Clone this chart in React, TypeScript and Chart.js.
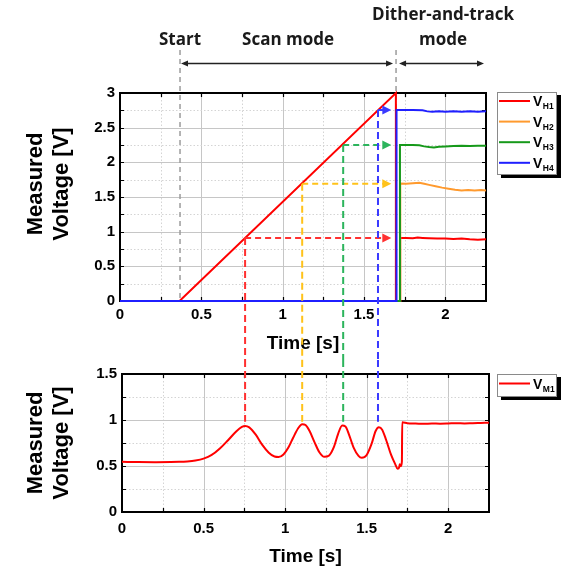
import React, { useEffect, useRef } from 'react';
import { Chart, registerables } from 'chart.js';

Chart.register(...registerables);

// ---------- axes ----------
const X_MAX = 2.25;
const TOP_Y_MAX = 3;
const BOTTOM_Y_MAX = 1.5;
const MAJOR_STEP = 0.5;
const MINOR_STEP = 0.25;

// ---------- top chart series (time [s], voltage [V]) ----------
const vH1Time = [0, 0.366, 1.696, 1.696, 1.722, 1.722, 1.76, 1.8, 1.83, 1.86, 1.9, 1.95, 2.0, 2.05, 2.1, 2.15, 2.2, 2.25];
const vH1Volt = [0, 0, 3, 0, 0, 0.91, 0.91, 0.905, 0.915, 0.91, 0.905, 0.9, 0.9, 0.895, 0.9, 0.89, 0.885, 0.89];

const vH2Time = [0, 1.723, 1.723, 1.76, 1.8, 1.84, 1.87, 1.9, 1.94, 1.98, 2.02, 2.06, 2.1, 2.14, 2.18, 2.22, 2.25];
const vH2Volt = [0, 0, 1.695, 1.69, 1.7, 1.705, 1.69, 1.675, 1.655, 1.635, 1.62, 1.605, 1.595, 1.6, 1.595, 1.6, 1.595];

const vH3Time = [0, 1.721, 1.721, 1.76, 1.8, 1.84, 1.87, 1.9, 1.93, 1.96, 2.0, 2.05, 2.1, 2.15, 2.2, 2.25];
const vH3Volt = [0, 0, 2.25, 2.25, 2.25, 2.245, 2.23, 2.22, 2.215, 2.225, 2.23, 2.235, 2.24, 2.235, 2.24, 2.24];

const vH4Time = [0, 1.7, 1.7, 1.75, 1.8, 1.86, 1.89, 1.92, 1.96, 2.0, 2.05, 2.1, 2.15, 2.2, 2.25];
const vH4Volt = [0, 0, 2.755, 2.755, 2.755, 2.75, 2.735, 2.73, 2.735, 2.73, 2.735, 2.73, 2.735, 2.73, 2.735];

const topNames = ['H1', 'H2', 'H3', 'H4'];
const topColors = ['#ff0000', '#ff9a2e', '#16991a', '#1f1fff'];

// ---------- bottom chart series ----------
const vM1Time = [0, 0.1, 0.2, 0.3, 0.35, 0.4, 0.45, 0.5, 0.55, 0.6, 0.65, 0.7, 0.735, 0.755, 0.78, 0.82, 0.86, 0.9, 0.935, 0.96, 0.99, 1.02, 1.05, 1.08, 1.105, 1.125, 1.15, 1.18, 1.21, 1.24, 1.27, 1.3, 1.325, 1.35, 1.37, 1.39, 1.42, 1.45, 1.47, 1.5, 1.53, 1.555, 1.575, 1.595, 1.62, 1.65, 1.675, 1.69, 1.7, 1.703, 1.71, 1.716, 1.718, 1.75, 1.8, 1.85, 1.9, 1.95, 2.0, 2.05, 2.1, 2.15, 2.2, 2.25];
const vM1Volt = [0.545, 0.543, 0.542, 0.543, 0.545, 0.55, 0.56, 0.58, 0.62, 0.69, 0.78, 0.875, 0.925, 0.935, 0.92, 0.84, 0.73, 0.645, 0.603, 0.598, 0.625, 0.7, 0.81, 0.91, 0.955, 0.945, 0.88, 0.76, 0.65, 0.6, 0.615, 0.71, 0.85, 0.94, 0.93, 0.85, 0.7, 0.61, 0.59, 0.62, 0.74, 0.88, 0.92, 0.895, 0.78, 0.62, 0.52, 0.47, 0.49, 0.52, 0.5, 0.55, 0.975, 0.965, 0.962, 0.958, 0.962, 0.96, 0.962, 0.965, 0.963, 0.966, 0.968, 0.97];
const bottomNames = ['M1'];
const bottomColors = ['#ff0000'];

// ---------- annotations ----------
const scanStart = 0.369;
const scanEnd = 1.697;
const markTimes = [0.769, 1.12, 1.372, 1.586];
const markLevels = [0.91, 1.69, 2.25, 2.755];
const markColors = ['#ff3030', '#ffc21a', '#2cb45c', '#3a3aff'];
const markArrowTip = 1.668;
const markPeakStop = 0.98;

const TICK_FONT = { family: '"Liberation Sans", Arial, sans-serif', size: 15, weight: 'bold' as const };
const Y_TITLE_FONT = 'bold 22px "Liberation Sans", Arial, sans-serif';
const X_TITLE_FONT = 'bold 19px "Liberation Sans", Arial, sans-serif';
const ANNOT_FONT = 'bold 17px "Open Sans", "Noto Sans", sans-serif';

const pts = (t: number[], v: number[]) => t.map((x, i) => ({ x, y: v[i] }));

function isMajor(v: number) {
  return Math.abs(v / MAJOR_STEP - Math.round(v / MAJOR_STEP)) < 1e-6;
}

function tickFmt(v: number | string) {
  const n = Number(v);
  return isMajor(n) ? String(+n.toFixed(2)) : '';
}

function dashed(ctx: CanvasRenderingContext2D, x1: number, y1: number, x2: number, y2: number, color: string, w: number, dash: number[]) {
  ctx.save();
  ctx.strokeStyle = color;
  ctx.lineWidth = w;
  ctx.setLineDash(dash);
  ctx.beginPath();
  ctx.moveTo(x1, y1);
  ctx.lineTo(x2, y2);
  ctx.stroke();
  ctx.restore();
}

function arrowHead(ctx: CanvasRenderingContext2D, x: number, y: number, angle: number, len: number, half: number, color: string) {
  ctx.save();
  ctx.translate(x, y);
  ctx.rotate(angle);
  ctx.beginPath();
  ctx.moveTo(0, 0);
  ctx.lineTo(-len, -half);
  ctx.lineTo(-len, half);
  ctx.closePath();
  ctx.fillStyle = color;
  ctx.fill();
  ctx.restore();
}

function drawGrid(chart: any) {
  const { ctx, chartArea, scales } = chart;
  const { left, right, top, bottom } = chartArea;
  const x = scales.x, y = scales.y;
  ctx.save();
  ctx.lineWidth = 1;
  for (let i = 1; i * MINOR_STEP < x.max - 1e-9; i++) {
    const v = i * MINOR_STEP;
    const px = Math.round(x.getPixelForValue(v)) + 0.5;
    const major = isMajor(v);
    ctx.strokeStyle = major ? '#c6c6c6' : '#d4d4d4';
    ctx.setLineDash(major ? [] : [1.5, 2]);
    ctx.beginPath();
    ctx.moveTo(px, top);
    ctx.lineTo(px, bottom);
    ctx.stroke();
  }
  for (let i = 1; i * MINOR_STEP < y.max - 1e-9; i++) {
    const v = i * MINOR_STEP;
    const py = Math.round(y.getPixelForValue(v)) + 0.5;
    const major = isMajor(v);
    ctx.strokeStyle = major ? '#c6c6c6' : '#d4d4d4';
    ctx.setLineDash(major ? [] : [1.5, 2]);
    ctx.beginPath();
    ctx.moveTo(left, py);
    ctx.lineTo(right, py);
    ctx.stroke();
  }
  ctx.restore();
}

function drawFrame(chart: any) {
  const { ctx, chartArea, scales } = chart;
  const { left, right, top, bottom } = chartArea;
  const x = scales.x, y = scales.y;
  ctx.save();
  ctx.strokeStyle = '#000';
  ctx.lineWidth = 1.2;
  const tl = 4;
  for (let i = 1; i * MINOR_STEP < x.max - 1e-9; i++) {
    const px = Math.round(x.getPixelForValue(i * MINOR_STEP)) + 0.5;
    ctx.beginPath();
    ctx.moveTo(px, top); ctx.lineTo(px, top + tl);
    ctx.moveTo(px, bottom); ctx.lineTo(px, bottom - tl);
    ctx.stroke();
  }
  for (let i = 1; i * MINOR_STEP < y.max - 1e-9; i++) {
    const py = Math.round(y.getPixelForValue(i * MINOR_STEP)) + 0.5;
    ctx.beginPath();
    ctx.moveTo(left, py); ctx.lineTo(left + tl, py);
    ctx.moveTo(right, py); ctx.lineTo(right - tl, py);
    ctx.stroke();
  }
  ctx.lineWidth = 2;
  ctx.strokeRect(left, top, right - left, bottom - top);
  ctx.restore();
}

function drawYTitle(ctx: CanvasRenderingContext2D, cy: number) {
  ctx.save();
  ctx.fillStyle = '#000';
  ctx.font = Y_TITLE_FONT;
  ctx.textAlign = 'center';
  ctx.textBaseline = 'alphabetic';
  const lines: [string, number][] = [['Measured', 41.5], ['Voltage [V]', 68]];
  for (const [t, bx] of lines) {
    ctx.save();
    ctx.translate(bx, cy);
    ctx.rotate(-Math.PI / 2);
    ctx.fillText(t, 0, 0);
    ctx.restore();
  }
  ctx.restore();
}

function drawXTitle(ctx: CanvasRenderingContext2D, cx: number, baseline: number) {
  ctx.save();
  ctx.fillStyle = '#000';
  ctx.font = X_TITLE_FONT;
  ctx.textAlign = 'center';
  ctx.textBaseline = 'alphabetic';
  ctx.fillText('Time [s]', cx, baseline);
  ctx.restore();
}

function drawLegend(ctx: CanvasRenderingContext2D, bx: number, by: number, bw: number, bh: number, names: string[], colors: string[], rowStart: number, rowGap: number) {
  ctx.save();
  ctx.fillStyle = '#000';
  ctx.fillRect(bx + 4, by + 3, bw, bh);
  ctx.fillStyle = '#fff';
  ctx.fillRect(bx, by, bw, bh);
  ctx.strokeStyle = '#8a8a8a';
  ctx.lineWidth = 1;
  ctx.strokeRect(bx + 0.5, by + 0.5, bw - 1, bh - 1);
  names.forEach((n, i) => {
    const ry = by + rowStart + i * rowGap;
    ctx.strokeStyle = colors[i];
    ctx.lineWidth = 2;
    ctx.beginPath();
    ctx.moveTo(bx + 2, ry);
    ctx.lineTo(bx + 33, ry);
    ctx.stroke();
    ctx.fillStyle = '#000';
    ctx.font = 'bold 14px "Liberation Sans", Arial, sans-serif';
    ctx.textAlign = 'left';
    ctx.textBaseline = 'alphabetic';
    ctx.fillText('V', bx + 36, ry + 5);
    const w = ctx.measureText('V').width;
    ctx.font = 'bold 8.5px "Liberation Sans", Arial, sans-serif';
    ctx.fillText(n, bx + 36 + w + 0.5, ry + 8);
  });
  ctx.restore();
}

function scaleOptions(yMax: number, yWidth: number, xHeight: number, xPad: number) {
  return {
    x: {
      type: 'linear' as const,
      min: 0,
      max: X_MAX,
      afterFit: (s: any) => { s.height = xHeight; },
      grid: { display: false, drawTicks: false },
      border: { display: false },
      ticks: { stepSize: MAJOR_STEP, includeBounds: false, padding: xPad, font: TICK_FONT, color: '#000', maxRotation: 0, autoSkip: false, callback: tickFmt },
    },
    y: {
      type: 'linear' as const,
      min: 0,
      max: yMax,
      afterFit: (s: any) => { s.width = yWidth; },
      grid: { display: false, drawTicks: false },
      border: { display: false },
      ticks: { stepSize: MAJOR_STEP, padding: 5, font: TICK_FONT, color: '#000', autoSkip: false, callback: tickFmt },
    },
  };
}

const TOP_H = 360;
const BOTTOM_H = 207;

export default function App() {
  const topRef = useRef<HTMLCanvasElement>(null);
  const botRef = useRef<HTMLCanvasElement>(null);

  useEffect(() => {
    const topSeries = [pts(vH1Time, vH1Volt), pts(vH2Time, vH2Volt), pts(vH3Time, vH3Volt), pts(vH4Time, vH4Volt)];

    const topPlugin = {
      id: 'topDecor',
      beforeDatasetsDraw(chart: any) {
        drawGrid(chart);
        const { ctx, chartArea, scales } = chart;
        const sx = scales.x.getPixelForValue(scanStart);
        const ex = scales.x.getPixelForValue(scanEnd);
        dashed(ctx, sx, 50, sx, chartArea.bottom, '#9c9c9c', 1.5, [5, 4]);
        dashed(ctx, ex, 50, ex, chartArea.bottom, '#9c9c9c', 1.5, [5, 4]);
        drawFrame(chart);
      },
      afterDatasetsDraw(chart: any) {
        const { ctx, chartArea, scales } = chart;
        const x = scales.x, y = scales.y;
        const sx = x.getPixelForValue(scanStart);
        const ex = x.getPixelForValue(scanEnd);
        // mode texts
        ctx.save();
        ctx.fillStyle = '#1a1a1a';
        ctx.font = ANNOT_FONT;
        ctx.textAlign = 'center';
        ctx.textBaseline = 'alphabetic';
        ctx.fillText('Start', sx, 45);
        ctx.fillText('Scan mode', (sx + ex) / 2, 45);
        const dx = (ex + chartArea.right) / 2 + 2;
        ctx.fillText('Dither-and-track', dx, 20);
        ctx.fillText('mode', dx, 45);
        ctx.restore();
        // black double arrows
        const ay = 63.5;
        const arrows: [number, number][] = [[sx + 1, ex - 3], [ex + 3, chartArea.right - 2]];
        for (const [a, b] of arrows) {
          ctx.save();
          ctx.strokeStyle = '#222';
          ctx.lineWidth = 1.3;
          ctx.beginPath();
          ctx.moveTo(a + 4, ay);
          ctx.lineTo(b - 4, ay);
          ctx.stroke();
          ctx.restore();
          arrowHead(ctx, a, ay, Math.PI, 7, 3, '#222');
          arrowHead(ctx, b, ay, 0, 7, 3, '#222');
        }
        // titles + legend
        drawYTitle(ctx, (chartArea.top + chartArea.bottom) / 2 - 13);
        drawXTitle(ctx, (chartArea.left + chartArea.right) / 2, 349);
        drawLegend(ctx, 497, 92, 60, 83, topNames, topColors, 9, 20.6);
        // coloured connectors
        const tipX = x.getPixelForValue(markArrowTip);
        markTimes.forEach((t, i) => {
          const px = x.getPixelForValue(t);
          const py = y.getPixelForValue(markLevels[i]);
          dashed(ctx, px, py, tipX - 8, py, markColors[i], 2, [6, 4]);
          arrowHead(ctx, tipX, py, 0, 9, 4.5, markColors[i]);
          dashed(ctx, px, py, px, TOP_H, markColors[i], 2, [7, 4]);
        });
      },
    };

    const top = new Chart(topRef.current as HTMLCanvasElement, {
      type: 'line',
      data: {
        datasets: topSeries.map((d, i) => ({
          label: 'V' + topNames[i],
          data: d,
          borderColor: topColors[i],
          backgroundColor: topColors[i],
          borderWidth: 2,
          pointRadius: 0,
          tension: 0,
          order: 4 - i,
          clip: false as any,
        })),
      },
      options: {
        animation: false,
        responsive: false,
        maintainAspectRatio: false,
        layout: { padding: { left: 0, top: 93, right: 84, bottom: 0 } },
        plugins: { legend: { display: false }, tooltip: { enabled: false } },
        scales: scaleOptions(TOP_Y_MAX, 120, TOP_H - 301, 5),
      },
      plugins: [topPlugin],
    } as any);

    const bottomPlugin = {
      id: 'bottomDecor',
      beforeDatasetsDraw(chart: any) {
        drawGrid(chart);
        drawFrame(chart);
      },
      afterDatasetsDraw(chart: any) {
        const { ctx, chartArea, scales } = chart;
        drawYTitle(ctx, (chartArea.top + chartArea.bottom) / 2);
        drawXTitle(ctx, (chartArea.left + chartArea.right) / 2, 201.5);
        drawLegend(ctx, 497, 14, 60, 23, bottomNames, bottomColors, 9.5, 20);
        const stopY = scales.y.getPixelForValue(markPeakStop);
        markTimes.forEach((t, i) => {
          const px = top.scales.x.getPixelForValue(t);
          dashed(ctx, px, 0, px, stopY, markColors[i], 2, [7, 4]);
        });
      },
    };

    const bottom = new Chart(botRef.current as HTMLCanvasElement, {
      type: 'line',
      data: {
        datasets: [{
          label: 'V' + bottomNames[0],
          data: pts(vM1Time, vM1Volt),
          borderColor: bottomColors[0],
          backgroundColor: bottomColors[0],
          borderWidth: 2,
          pointRadius: 0,
          cubicInterpolationMode: 'monotone',
          clip: false as any,
        }],
      },
      options: {
        animation: false,
        responsive: false,
        maintainAspectRatio: false,
        layout: { padding: { left: 0, top: 14, right: 81, bottom: 0 } },
        plugins: { legend: { display: false }, tooltip: { enabled: false } },
        scales: scaleOptions(BOTTOM_Y_MAX, 122, BOTTOM_H - 152, 8),
      },
      plugins: [bottomPlugin],
    } as any);

    return () => {
      bottom.destroy();
      top.destroy();
    };
  }, []);

  return (
    <div style={{ position: 'fixed', left: 0, top: 0, width: 570, height: 567, background: '#fff' }}>
      <canvas ref={topRef} width={570} height={TOP_H} style={{ position: 'absolute', left: 0, top: 0, width: 570, height: TOP_H }} />
      <canvas ref={botRef} width={570} height={BOTTOM_H} style={{ position: 'absolute', left: 0, top: TOP_H, width: 570, height: BOTTOM_H }} />
    </div>
  );
}
